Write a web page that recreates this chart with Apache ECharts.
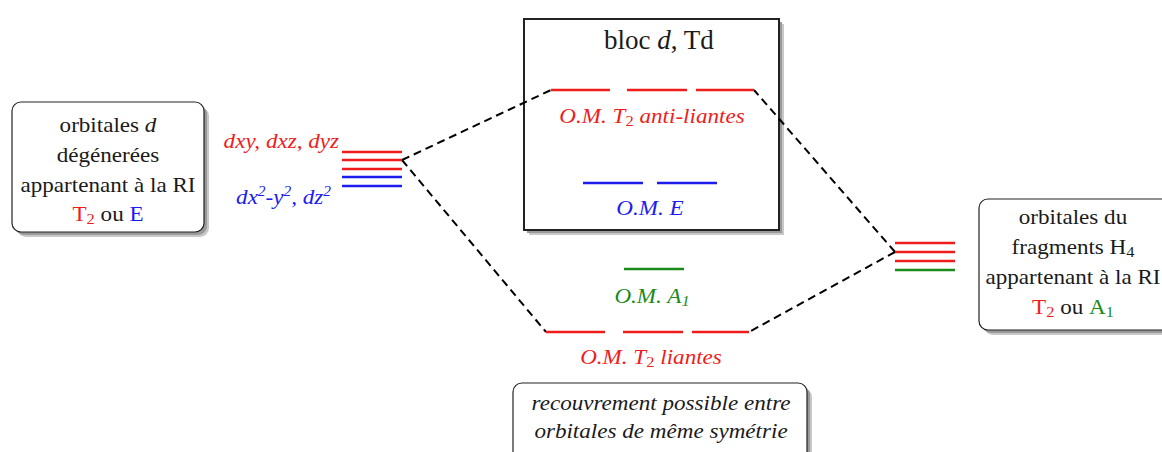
<!DOCTYPE html>
<html><head><meta charset="utf-8">
<script src="https://cdn.jsdelivr.net/npm/echarts@6/dist/echarts.min.js"></script>
<style>html,body{margin:0;padding:0;background:#fff}#c{width:1162px;height:452px}</style>
</head><body><div id="c"></div>
<script>
// ================= DATA =================
// Orbital energy levels (diagram energy units, larger value = lower energy)
const dLevels = [152, 160, 169, 177, 186];          // metal d orbitals
const dSymmetry = ['T2', 'T2', 'T2', 'E', 'E'];
const h4Levels = [243, 252, 261, 270];              // H4 fragment orbitals
const h4Symmetry = ['T2', 'T2', 'T2', 'A1'];
const moLevels = [90, 183, 269, 332];               // molecular orbitals
const moSymmetry = ['T2', 'E', 'A1', 'T2'];
const moDegeneracy = [3, 2, 1, 3];

// Text labels (rich-text markup)
const dBoxLines = ['{k|orbitales }{ki|d}', '{k|dégénerées}', '{k|appartenant à la RI}', '{r|T}{rs|2}{k| ou }{b|E}'];
const h4BoxLines = ['{k|orbitales du}', '{k|fragments H}{ks|4}', '{k|appartenant à la RI}', '{r|T}{rs|2}{k| ou }{g|A}{gs|1}'];
const dSetLabels = ['{ri|dxy, dxz, dyz}', '{bi|dx}{bip|2}{bi|-y}{bip|2}{bi|, dz}{bip|2}'];
const moLabels = ['{ri|O.M. T}{rs|2}{ri| anti-liantes}', '{bi|O.M. E}', '{gi|O.M. A}{gis|1}', '{ri|O.M. T}{rs|2}{ri| liantes}'];
const blockTitle = ['{K|bloc }{Ki|d}{K|, Td}'];
const noteLines = ['{ki|recouvrement possible entre}', '{ki|orbitales de même symétrie}'];

// ================= LAYOUT / STYLE =================
const COL = {T2: '#f01c1c', E: '#1c1cf0', A1: '#1a8a1a'};
const FONT = 'Liberation Serif';
const SX = 1.1; // horizontal stretch of the reference typography
const D_X = [342, 402];
const H4_X = [895, 955];
const MO_SEGS = [
  [[551, 610], [627, 687], [696, 754]],
  [[583, 643], [657, 717]],
  [[624, 684]],
  [[546, 605], [623, 683], [692, 749]]
];
const BOXES = [ // x1,y1,x2,y2,radius,lineWidth
  [12, 102, 204, 232, 9, 1.2],
  [524, 19, 779, 230, 0, 2],
  [979, 199, 1175, 330, 9, 1.2],
  [513, 383, 807, 470, 9, 1.2]
];

function richStyles() {
  const r = {};
  const cols = {k: '#1a1a1a', r: COL.T2, b: COL.E, g: COL.A1};
  for (const ck in cols) {
    const c = cols[ck];
    r[ck] = {fill: c, fontFamily: FONT, fontSize: 21, lineHeight: 25};
    r[ck + 'i'] = {fill: c, fontFamily: FONT, fontSize: 21, fontStyle: 'italic', lineHeight: 25};
    r[ck + 's'] = {fill: c, fontFamily: FONT, fontSize: 15, lineHeight: 12, verticalAlign: 'bottom'};
    r[ck + 'is'] = {fill: c, fontFamily: FONT, fontSize: 15, fontStyle: 'italic', lineHeight: 12, verticalAlign: 'bottom'};
    r[ck + 'ip'] = {fill: c, fontFamily: FONT, fontSize: 14, fontStyle: 'italic', lineHeight: 12, verticalAlign: 'top'};
  }
  r.K = {fill: '#1a1a1a', fontFamily: FONT, fontSize: 27, lineHeight: 30};
  r.Ki = {fill: '#1a1a1a', fontFamily: FONT, fontSize: 27, fontStyle: 'italic', lineHeight: 30};
  return r;
}
const RICH = richStyles();

// level segments: [x1, x2, energy, symmetry]
const levelData = [];
dLevels.forEach((e, i) => levelData.push([D_X[0], D_X[1], e, dSymmetry[i]]));
h4Levels.forEach((e, i) => levelData.push([H4_X[0], H4_X[1], e, h4Symmetry[i]]));
moLevels.forEach((e, i) => {
  MO_SEGS[i].slice(0, moDegeneracy[i]).forEach(s => levelData.push([s[0], s[1], e, moSymmetry[i]]));
});

// correlation (dashed) lines
const dApex = [D_X[1], dLevels[1]];
const h4Apex = [H4_X[0], h4Levels[1]];
const linkData = [
  {coords: [dApex, [MO_SEGS[0][0][0], moLevels[0]]]},
  {coords: [dApex, [MO_SEGS[3][0][0], moLevels[3]]]},
  {coords: [h4Apex, [MO_SEGS[0][2][1], moLevels[0]]]},
  {coords: [h4Apex, [MO_SEGS[3][2][1], moLevels[3]]]}
];

// text items: [x, y, align, markup, scaleX]
const textData = [];
const addLines = (lines, x, ys, align, sx) => lines.forEach((t, i) => textData.push([x, ys[i], align, t, sx || SX]));
addLines(dBoxLines, 108, [125, 155, 185, 214], 'center');
addLines(h4BoxLines, 1073, [217, 247, 277, 307], 'center');
addLines([dSetLabels[0]], 339, [141], 'right');
addLines([dSetLabels[1]], 331, [197], 'right');
moLabels.forEach((t, i) => textData.push([[652, 650, 652, 651][i], [116, 208, 296, 357][i], 'center', t, SX]));
addLines(blockTitle, 659, [40], 'center', 1.0);
addLines(noteLines, 661, [403, 431], 'center');

const chart = echarts.init(document.getElementById('c'), null, {renderer: 'svg'});
chart.setOption({
  animation: false,
  backgroundColor: '#fff',
  grid: {left: 0, right: 0, top: 0, bottom: 0},
  xAxis: {type: 'value', min: 0, max: 1162, show: false},
  yAxis: {type: 'value', min: 0, max: 452, inverse: true, show: false},
  series: [
    {
      type: 'custom', name: 'boxes', z: 1, clip: false,
      data: BOXES,
      renderItem: (p, api) => {
        const a = api.coord([api.value(0), api.value(1)]);
        const b = api.coord([api.value(2), api.value(3)]);
        const r = api.value(4), lw = api.value(5);
        const shape = {x: a[0], y: a[1], width: b[0] - a[0], height: b[1] - a[1], r: r};
        return {type: 'group', children: [
          {type: 'rect', x: 5, y: 5, shape: shape, style: {fill: '#c8c8c8', stroke: null}},
          {type: 'rect', x: 3, y: 3, shape: shape, style: {fill: '#9a9a9a', stroke: null}},
          {type: 'rect', shape: shape, style: {fill: '#fff', stroke: '#222', lineWidth: lw}}
        ]};
      }
    },
    {
      type: 'lines', name: 'correlations', coordinateSystem: 'cartesian2d', z: 2,
      data: linkData,
      lineStyle: {color: '#000', width: 2, type: [8, 5], opacity: 1}
    },
    {
      type: 'custom', name: 'levels', z: 3,
      data: levelData,
      renderItem: (p, api) => {
        const a = api.coord([api.value(0), api.value(2)]);
        const b = api.coord([api.value(1), api.value(2)]);
        const sym = levelData[p.dataIndex][3];
        return {type: 'line', shape: {x1: a[0], y1: a[1], x2: b[0], y2: b[1]},
          style: {stroke: COL[sym], lineWidth: 2.4}};
      }
    },
    {
      type: 'custom', name: 'texts', z: 4, clip: false,
      data: textData.map(d => [d[0], d[1]]),
      renderItem: (p, api) => {
        const d = textData[p.dataIndex];
        const pt = api.coord([d[0], d[1]]);
        return {type: 'text', x: pt[0], y: pt[1], scaleX: d[4], scaleY: 1,
          style: {text: d[3], rich: RICH, align: d[2], verticalAlign: 'middle',
            fontFamily: FONT, fontSize: 21, fill: '#1a1a1a'}};
      }
    }
  ]
});
</script></body></html>
